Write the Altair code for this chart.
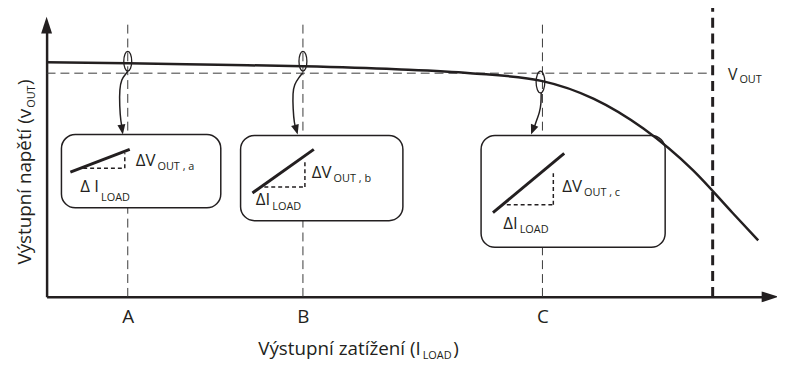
import altair as alt
import pandas as pd

FONT = "Open Sans, Noto Sans, sans-serif"
INK = "#231f20"

# Coordinate system: x = output load, y = output voltage (origin at axis corner)
X_MAX = 728
Y_MAX = 276

# main load-regulation curve
curve_x = [0, 82, 173, 259, 353, 428, 501, 553, 603, 653, 693, 719]
curve_y = [237, 236, 234.5, 233, 230, 226, 218, 200, 170, 128, 85, 57]

# x tick labels
tick_pos = [82, 259, 501]
tick_labels = ["A", "B", "C"]

# thin dashed guides (A, B, C verticals and the V_OUT level)
guide_x = [82, 259, 501, 0]
guide_x2 = [82, 259, 501, 673]
guide_y = [0, 0, 0, 226]
guide_y2 = [278, 278, 278, 226]

# thick dashed limit line
limit_x = [673]
limit_y = [0]
limit_y2 = [293]

# callout boxes
box_x = [15, 196, 439]
box_x2 = [176, 360, 625]
box_y = [90, 77, 50]
box_y2 = [164, 163, 163]

# slope lines inside boxes
slope_x = [24, 208, 451]
slope_x2 = [84, 270, 523]
slope_y = [126, 105, 85]
slope_y2 = [149, 149, 145]

# dashed delta triangles inside boxes
tri_x = [37, 79, 220, 261, 465, 512]
tri_x2 = [79, 79, 261, 261, 512, 512]
tri_y = [130, 130, 111, 111, 93, 93]
tri_y2 = [130, 145, 111, 136, 93, 128]

# ellipse markers on the curve
ell_x = [82, 259, 499]
ell_y = [238, 238, 217]
ell_size = [400, 400, 484]

# curved pointer arrows
arrow_id = ["A"] * 7 + ["B"] * 7 + ["C"] * 5
arrow_x = [82, 79.7, 75.7, 73.7, 73.7, 75, 76.5,
           258.7, 254.7, 250.3, 248.7, 249, 250.3, 252,
           499.7, 499.7, 498, 495, 493]
arrow_y = [228, 224.7, 220, 210, 193, 176.3, 171,
           226.3, 221.3, 214.7, 206.3, 189.7, 174.7, 170,
           206.3, 195, 186, 178, 172]
arrow_order = [0, 1, 2, 3, 4, 5, 6, 0, 1, 2, 3, 4, 5, 6, 0, 1, 2, 3, 4]

head_x = [76.3, 252.3, 491.3]
head_y = [169, 168.8, 168.7]
head_ang = [351.5, 344, 21]

# texts (main parts right-aligned, subscripts left-aligned right after them)
txt = ["ΔV", "OUT , a", "Δ I", "LOAD",
       "ΔV", "OUT , b", "ΔI", "LOAD",
       "ΔV", "OUT , c", "ΔI", "LOAD",
       "V", "OUT",
       "Výstupní zatížení (I", "LOAD", ")",
       "Výstupní napětí (v", "OUT", ")"]
txt_x = [110, 112, 53, 55,
         288, 290, 226, 228,
         541, 543, 476, 478,
         698, 700,
         378, 380, 411,
         -16, -12, -16]
txt_y = [132, 128, 106, 97,
         120, 116, 93, 88,
         106, 102, 69, 65,
         219, 216,
         -59, -63, -59,
         190, 191, 214]
txt_fs = [17, 11, 17, 11,
          17, 11, 17, 11,
          17, 11, 17, 11,
          16, 11,
          19, 11, 19,
          19, 11, 19]
txt_al = ["right", "left"] * 7 + ["right", "left", "left"] + ["right", "left", "left"]
txt_ang = [0] * 17 + [270, 270, 270]

# ---------------------------------------------------------------
xs = alt.Scale(domain=[0, X_MAX], nice=False, zero=False)
ys = alt.Scale(domain=[0, Y_MAX], nice=False, zero=False)

label_expr = " : ".join(
    f"datum.value == {p} ? '{l}'" for p, l in zip(tick_pos[:-1], tick_labels[:-1])
) + f" : '{tick_labels[-1]}'"

x_axis = alt.Axis(values=tick_pos, labelExpr=label_expr, domain=True, domainColor=INK,
                  domainWidth=2.5, ticks=False, grid=False, labelFontSize=19,
                  labelFont=FONT, labelColor=INK, labelPadding=11, title=None)
y_axis = alt.Axis(domain=True, domainColor=INK, domainWidth=2.5, ticks=False,
                  labels=False, grid=False, title=None)


def X(f):
    return alt.X(f"{f}:Q", scale=xs, axis=x_axis)


def Y(f):
    return alt.Y(f"{f}:Q", scale=ys, axis=y_axis)


guides = alt.Chart(pd.DataFrame({"x": guide_x, "x2": guide_x2, "y": guide_y, "y2": guide_y2})).mark_rule(
    color="#3a3a3a", strokeWidth=1, strokeDash=[9, 5]
).encode(x=X("x"), x2="x2:Q", y=Y("y"), y2="y2:Q")

limit = alt.Chart(pd.DataFrame({"x": limit_x, "y": limit_y, "y2": limit_y2})).mark_rule(
    color=INK, strokeWidth=3, strokeDash=[10, 6]
).encode(x=X("x"), y=Y("y"), y2="y2:Q")

boxes = alt.Chart(pd.DataFrame({"x": box_x, "x2": box_x2, "y": box_y, "y2": box_y2})).mark_rect(
    cornerRadius=14, fill="white", stroke=INK, strokeWidth=1.5
).encode(x=X("x"), x2="x2:Q", y=Y("y"), y2="y2:Q")

curve = alt.Chart(pd.DataFrame({"x": curve_x, "y": curve_y})).mark_line(
    color=INK, strokeWidth=2.5, interpolate="monotone"
).encode(x=X("x"), y=Y("y"))

slopes = alt.Chart(pd.DataFrame({"x": slope_x, "x2": slope_x2, "y": slope_y, "y2": slope_y2})).mark_rule(
    color=INK, strokeWidth=3
).encode(x=X("x"), x2="x2:Q", y=Y("y"), y2="y2:Q")

tris = alt.Chart(pd.DataFrame({"x": tri_x, "x2": tri_x2, "y": tri_y, "y2": tri_y2})).mark_rule(
    color=INK, strokeWidth=1.5, strokeDash=[4, 3]
).encode(x=X("x"), x2="x2:Q", y=Y("y"), y2="y2:Q")

ellipses = alt.Chart(pd.DataFrame({"x": ell_x, "y": ell_y, "s": ell_size})).mark_point(
    shape="M0,-1A0.4,1 0 1,1 0,1A0.4,1 0 1,1 0,-1Z", filled=False, color=INK,
    strokeWidth=1.3, opacity=1
).encode(x=X("x"), y=Y("y"), size=alt.Size("s:Q", scale=None))

arrows = alt.Chart(pd.DataFrame({"id": arrow_id, "x": arrow_x, "y": arrow_y, "o": arrow_order})).mark_line(
    color=INK, strokeWidth=1.5, interpolate="basis"
).encode(x=X("x"), y=Y("y"), detail="id:N", order="o:Q")

heads = alt.Chart(pd.DataFrame({"x": head_x, "y": head_y, "a": head_ang})).mark_point(
    shape="M-0.8,-1L0.8,-1L0,1Z", filled=True, color=INK, size=100, opacity=1
).encode(x=X("x"), y=Y("y"), angle=alt.Angle("a:Q", scale=None))

y_arrow = alt.Chart(pd.DataFrame({"x": [0], "y": [274.5]})).mark_point(
    shape="M0,-1L0.65,1L-0.65,1Z", filled=True, color=INK, size=289, opacity=1
).encode(x=X("x"), y=Y("y"))

x_arrow = alt.Chart(pd.DataFrame({"x": [731], "y": [0]})).mark_point(
    shape="M1,0L-1,-0.65L-1,0.65Z", filled=True, color=INK, size=289, opacity=1
).encode(x=X("x"), y=Y("y"))

tdf = pd.DataFrame({"t": txt, "x": txt_x, "y": txt_y, "fs": txt_fs, "al": txt_al, "ang": txt_ang})
text_layers = []
for (al, ang), g in tdf.groupby(["al", "ang"]):
    text_layers.append(
        alt.Chart(g).mark_text(align=al, baseline="alphabetic", angle=int(ang), font=FONT, color=INK)
        .encode(x=X("x"), y=Y("y"), text="t:N", size=alt.Size("fs:Q", scale=None))
    )

chart = alt.layer(
    guides, limit, boxes, curve, slopes, tris, ellipses, arrows, heads, y_arrow, x_arrow, *text_layers
).properties(
    width=X_MAX, height=Y_MAX, autosize="none",
    padding={"left": 39, "top": 14, "right": 10, "bottom": 67},
    background="white"
).configure_view(stroke=None)

chart.save("out.html", embed_options={"renderer": "svg", "actions": False})
